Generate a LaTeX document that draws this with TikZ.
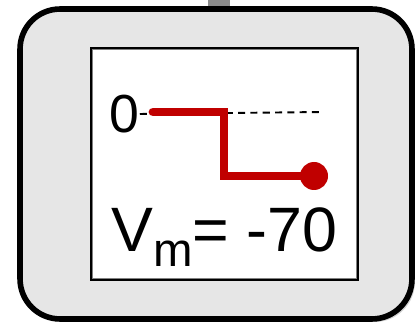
\documentclass[tikz,border=0pt]{standalone}
\usepackage{fontspec}
\setmainfont{Liberation Sans}
\usepackage{tikz}
\usetikzlibrary{positioning,shadows}
\definecolor{panelgray}{RGB}{230,230,230}
\definecolor{tracered}{RGB}{192,0,0}
\definecolor{stubgray}{RGB}{140,140,140}

\begin{document}
\begin{tikzpicture}[x=0.02cm, y=-0.02cm,
        frame/.style={rectangle, draw, line width=3.2pt, fill=panelgray, rounded corners=0.8cm, minimum width=7.84cm, minimum height=6.2cm, inner sep=0pt, drop shadow={opacity=0.35, shadow xshift=0.06cm, shadow yshift=-0.06cm}},
        panel/.style={rectangle, draw, line width=1.7pt, fill=white, minimum width=5.34cm, minimum height=4.64cm, inner sep=0pt},
        trace/.style={draw=tracered, line width=5pt, line join=miter},
        refline/.style={draw, line width=1.1pt, dashed, dash pattern=on 4pt off 3pt},
        stub/.style={draw=stubgray, line width=12.5pt},
        lbl/.style={inner sep=0pt, font=\fontsize{35.7}{36}\selectfont}
    ]
        \useasboundingbox (0,0) rectangle (415,327);
        \coordinate (stubtop) at (219,0);
        \draw[stub] (stubtop) -- ++(0,20);
        \node[frame] (box) at (216,164) {};
        \node[panel] (win) at (224.5,164) {};
        \draw[gray, line width=0.7pt] ([shift={(3,3)}]win.north west) rectangle ([shift={(-3,-3)}]win.south east);
        % resting potential trace
        \node[lbl, font=\fontsize{30.5}{31}\selectfont] (zero) at (124.5,114) {0};
        \coordinate (t0) at (153,112);
        \coordinate (t1) at (224,112);
        \coordinate (t2) at (224,176);
        \coordinate (t3) at (314,176);
        \coordinate (d1) at (322,112);
        \draw[refline] (zero.east) -- (d1);
        \draw[trace] (t0) -- (t1) -- (t2) -- (t3);
        \draw[trace, line cap=round] (t0) -- ++(1,0);
        \fill[tracered] (t3) circle (14);
        \node[lbl, anchor=base west] (vm) at (111,252) {V\raisebox{-8.5pt}{\fontsize{27}{27}\selectfont m}= -70};
    \end{tikzpicture}
\end{document}
